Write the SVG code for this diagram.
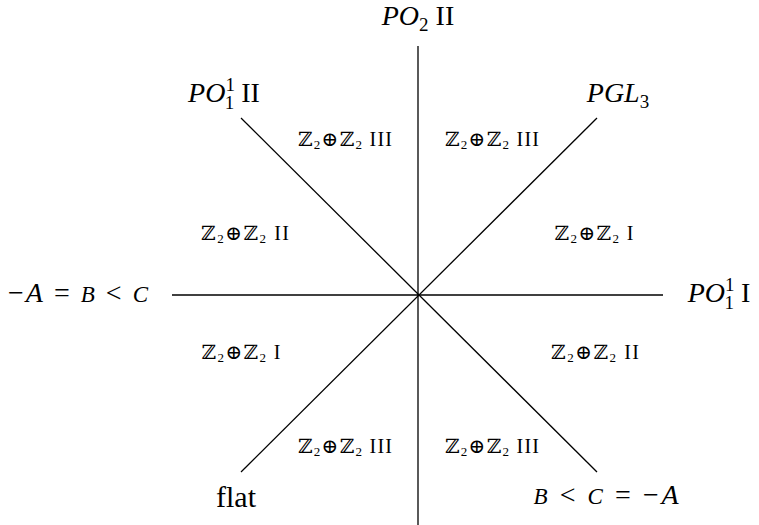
<svg xmlns="http://www.w3.org/2000/svg" width="759" height="525" viewBox="0 0 759 525">
<style>
.ln{stroke:#000;stroke-width:1.3;fill:none}
.big{font-family:"Liberation Serif","DejaVu Serif",serif;font-size:28px;fill:#000;text-anchor:middle}
.sm{font-family:"Liberation Serif","DejaVu Serif",serif;font-size:20px;fill:#000;text-anchor:middle}
.i{font-style:italic}
.s{font-size:19px}
.ss{font-size:13px}
.c{font-size:23px}
</style>
<rect width="759" height="525" fill="#fff"/>
<g id="connectors">
<line class="ln" x1="418" y1="46" x2="418" y2="544"/>
<line class="ln" x1="172" y1="295" x2="663" y2="295"/>
<line class="ln" x1="241" y1="118" x2="597" y2="472"/>
<line class="ln" x1="597" y1="118" x2="241" y2="472"/>
</g>
<g id="label-top"><text class="big" x="418" y="25"><tspan class="i">PO</tspan><tspan class="s" dy="6">2</tspan><tspan dy="-6"> II</tspan></text></g>
<g id="label-ul"><text class="big" x="224" y="102"><tspan class="i">PO</tspan><tspan class="s" dy="-11">1</tspan><tspan class="s" dx="-9.5" dy="18">1</tspan><tspan dy="-7"> II</tspan></text></g>
<g id="label-ur"><text class="big" x="618" y="102"><tspan class="i">PGL</tspan><tspan class="s" dy="6">3</tspan></text></g>
<g id="label-left"><text class="big" x="78" y="302" textLength="140" lengthAdjust="spacing">−<tspan class="i">A</tspan> = <tspan class="i c">B</tspan> &lt; <tspan class="i c">C</tspan></text></g>
<g id="label-right"><text class="big" x="719" y="302"><tspan class="i">PO</tspan><tspan class="s" dy="-11">1</tspan><tspan class="s" dx="-9.5" dy="18">1</tspan><tspan dy="-7"> I</tspan></text></g>
<g id="label-ll"><text class="big" x="236" y="507" style="font-size:30px">flat</text></g>
<g id="label-lr"><text class="big" x="606" y="504" textLength="145" lengthAdjust="spacing"><tspan class="i c">B</tspan> &lt; <tspan class="i c">C</tspan> = −<tspan class="i">A</tspan></text></g>
<g id="r1"><text class="sm" x="345" y="146" textLength="94" lengthAdjust="spacing">ℤ<tspan class="ss" dy="3">2</tspan><tspan dy="-3">⊕ℤ</tspan><tspan class="ss" dy="3">2</tspan><tspan dy="-3">  III</tspan></text></g>
<g id="r2"><text class="sm" x="492" y="146" textLength="94" lengthAdjust="spacing">ℤ<tspan class="ss" dy="3">2</tspan><tspan dy="-3">⊕ℤ</tspan><tspan class="ss" dy="3">2</tspan><tspan dy="-3">  III</tspan></text></g>
<g id="r3"><text class="sm" x="245" y="240" textLength="88" lengthAdjust="spacing">ℤ<tspan class="ss" dy="3">2</tspan><tspan dy="-3">⊕ℤ</tspan><tspan class="ss" dy="3">2</tspan><tspan dy="-3">  II</tspan></text></g>
<g id="r4"><text class="sm" x="594" y="240" textLength="79" lengthAdjust="spacing">ℤ<tspan class="ss" dy="3">2</tspan><tspan dy="-3">⊕ℤ</tspan><tspan class="ss" dy="3">2</tspan><tspan dy="-3">  I</tspan></text></g>
<g id="r5"><text class="sm" x="241" y="359" textLength="79" lengthAdjust="spacing">ℤ<tspan class="ss" dy="3">2</tspan><tspan dy="-3">⊕ℤ</tspan><tspan class="ss" dy="3">2</tspan><tspan dy="-3">  I</tspan></text></g>
<g id="r6"><text class="sm" x="595" y="359" textLength="88" lengthAdjust="spacing">ℤ<tspan class="ss" dy="3">2</tspan><tspan dy="-3">⊕ℤ</tspan><tspan class="ss" dy="3">2</tspan><tspan dy="-3">  II</tspan></text></g>
<g id="r7"><text class="sm" x="345" y="453" textLength="94" lengthAdjust="spacing">ℤ<tspan class="ss" dy="3">2</tspan><tspan dy="-3">⊕ℤ</tspan><tspan class="ss" dy="3">2</tspan><tspan dy="-3">  III</tspan></text></g>
<g id="r8"><text class="sm" x="492" y="453" textLength="94" lengthAdjust="spacing">ℤ<tspan class="ss" dy="3">2</tspan><tspan dy="-3">⊕ℤ</tspan><tspan class="ss" dy="3">2</tspan><tspan dy="-3">  III</tspan></text></g>
</svg>
